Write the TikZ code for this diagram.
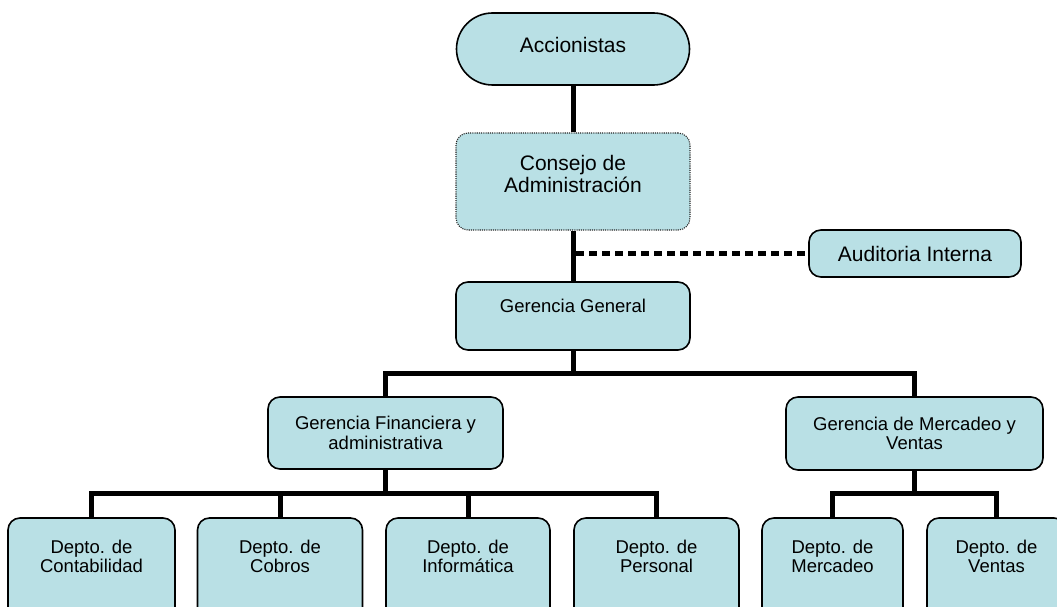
\documentclass[tikz,border=0pt]{standalone}
\usepackage{fontspec}
\setmainfont{Liberation Sans}
\usetikzlibrary{positioning}

\definecolor{boxfill}{RGB}{185,224,229}

\begin{document}
\begin{tikzpicture}[x=1pt,y=-1pt,
  box/.style={draw,line width=1.6pt,fill=boxfill,rounded corners=12pt,align=center,
    inner sep=0pt,font=\fontsize{18.5}{19.5}\selectfont},
  bigbox/.style={box,font=\fontsize{21}{21.5}\selectfont},
  pill/.style={bigbox,rounded corners=36pt},
  dotbox/.style={bigbox,draw=black!85,line width=1.1pt,dash pattern=on 1.1pt off 1.1pt},
  dept/.style={box,minimum height=110pt,text depth=33pt},
  conn/.style={line width=5pt},
  dots/.style={line width=5pt,dash pattern=on 8pt off 5pt}]
  \useasboundingbox (0,0) rectangle (1057,607);
  \node[pill,minimum width=233pt,minimum height=72pt,text depth=8pt] (acc) at (573,49) {Accionistas};
  \node[dotbox,minimum width=234pt,minimum height=97pt,text depth=15pt] (cons) at (573,181.5) {Consejo de\\Administración};
  \node[bigbox,minimum width=212pt,minimum height=47pt] (aud) at (915,253.5) {Auditoria Interna};
  \node[box,minimum width=234pt,minimum height=68pt,text depth=20pt] (gg) at (573,316) {Gerencia General};
  \node[box,minimum width=235pt,minimum height=72pt] (gfa) at (385.5,433) {Gerencia Financiera y\\administrativa};
  \node[box,minimum width=257pt,minimum height=73pt] (gmv) at (914.5,433.5) {Gerencia de Mercadeo y\\Ventas};
  \node[dept,minimum width=167pt] (cont) at (91.5,573) {Depto. de\\Contabilidad};
  \node[dept,minimum width=165pt] (cob) at (280,573) {Depto. de\\Cobros};
  \node[dept,minimum width=164pt] (inf) at (468,573) {Depto. de\\Informática};
  \node[dept,minimum width=165pt] (pers) at (656.5,573) {Depto. de\\Personal};
  \node[dept,minimum width=141pt] (merc) at (832.5,573) {Depto. de\\Mercadeo};
  \node[dept,minimum width=139pt] (vent) at (996.5,573) {Depto. de\\Ventas};
  \coordinate (tap) at (576,253.5);
  \coordinate (bus1) at (573,373);
  \coordinate (bus2) at (385.5,493);
  \coordinate (bus3) at (914.5,493);
  \draw[conn] (acc) -- (cons);
  \draw[conn] (cons) -- (gg);
  \draw[dots] (tap) -- (aud);
  \draw[conn] (gg) -- (bus1);
  \draw[conn] (gfa) |- (bus1) -| (gmv);
  \draw[conn] (gfa) -- (bus2);
  \draw[conn] (cont) |- (bus2) -| (pers);
  \draw[conn] (cob) -- (cob |- bus2);
  \draw[conn] (inf) -- (inf |- bus2);
  \draw[conn] (gmv) -- (bus3);
  \draw[conn] (merc) |- (bus3) -| (vent);
\end{tikzpicture}
\end{document}
